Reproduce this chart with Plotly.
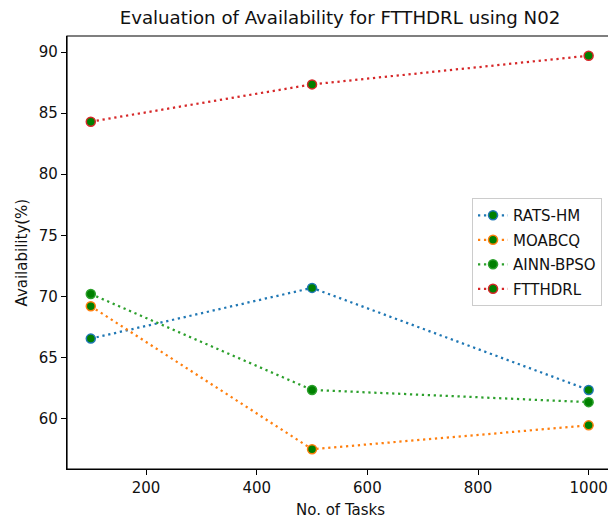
import plotly.graph_objects as go

tasks = [100, 500, 1000]
rats_hm = [66.55, 70.7, 62.35]
moabcq = [69.2, 57.5, 59.45]
ainn_bpso = [70.2, 62.35, 61.35]
ftthdrl = [84.3, 87.35, 89.7]

series_names = ["RATS-HM", "MOABCQ", "AINN-BPSO", "FTTHDRL"]
series_vals = [rats_hm, moabcq, ainn_bpso, ftthdrl]
colors = ["#1f77b4", "#ff7f0e", "#2ca02c", "#d62728"]

font_family = "DejaVu Sans"
txt = "#111111"

fig = go.Figure()
for name, vals, c in zip(series_names, series_vals, colors):
    fig.add_trace(go.Scatter(
        x=tasks, y=vals, name=name, mode="lines+markers", legendgroup=name,
        line=dict(color=c, width=2.25, dash="2.25px,3.7px"),
        marker=dict(color="green", size=9, line=dict(color=c, width=1.5)),
    ))

L, T, B = 67, 36, 55
W, H = 608, 524
pw, ph = W - L, H - T - B

fig.update_layout(
    width=W, height=H,
    margin=dict(l=L, r=0, t=T, b=B, autoexpand=False),
    paper_bgcolor="white", plot_bgcolor="white",
    font=dict(family=font_family, size=15, color=txt),
    title=dict(text="Evaluation of Availability for FTTHDRL using N02",
               x=340 / W, xanchor="center", y=1 - 18 / H, yanchor="middle",
               font=dict(size=18.2, family=font_family, color=txt)),
    showlegend=True,
    legend=dict(x=(472 - L) / pw, y=(H - B - 198) / ph, xanchor="left", yanchor="top",
                bgcolor="rgba(255,255,255,0.8)", bordercolor="#cccccc", borderwidth=1,
                font=dict(size=15, family=font_family, color=txt),
                itemwidth=30, tracegroupgap=2),
    shapes=[
        dict(type="rect", xref="paper", yref="paper", x0=0, x1=1.03, y0=0, y1=1,
             line=dict(color="#000000", width=1.2), fillcolor="rgba(0,0,0,0)", layer="above"),
    ],
    annotations=[
        dict(text="No. of Tasks", xref="paper", yref="paper",
             x=(340 - L) / pw, y=-(510 - (H - B)) / ph, xanchor="center", yanchor="middle",
             showarrow=False, font=dict(size=15, family=font_family, color=txt)),
        dict(text="Availability(%)", xref="paper", yref="paper",
             x=(21 - L) / pw, y=0.5, xanchor="center", yanchor="middle", textangle=-90,
             showarrow=False, font=dict(size=15, family=font_family, color=txt)),
    ],
)
fig.update_xaxes(
    range=[57, 1035], tickvals=[200, 400, 600, 800, 1000], automargin=False,
    showgrid=False, zeroline=False, showline=True, linecolor="#000", linewidth=1.2,
    mirror=False, ticks="outside", ticklen=5, tickwidth=1.2, tickcolor="#000",
    tickfont=dict(size=15, color=txt),
)
fig.update_yaxes(
    range=[55.88, 91.31], tickvals=[60, 65, 70, 75, 80, 85, 90], automargin=False,
    showgrid=False, zeroline=False, showline=True, linecolor="#000", linewidth=1.2,
    mirror=False, ticks="outside", ticklen=5, tickwidth=1.2, tickcolor="#000",
    tickfont=dict(size=15, color=txt),
)

fig.write_html("out.html", config={"displayModeBar": False},
               post_script="document.body.style.margin='0px';document.body.style.overflow='hidden';")
